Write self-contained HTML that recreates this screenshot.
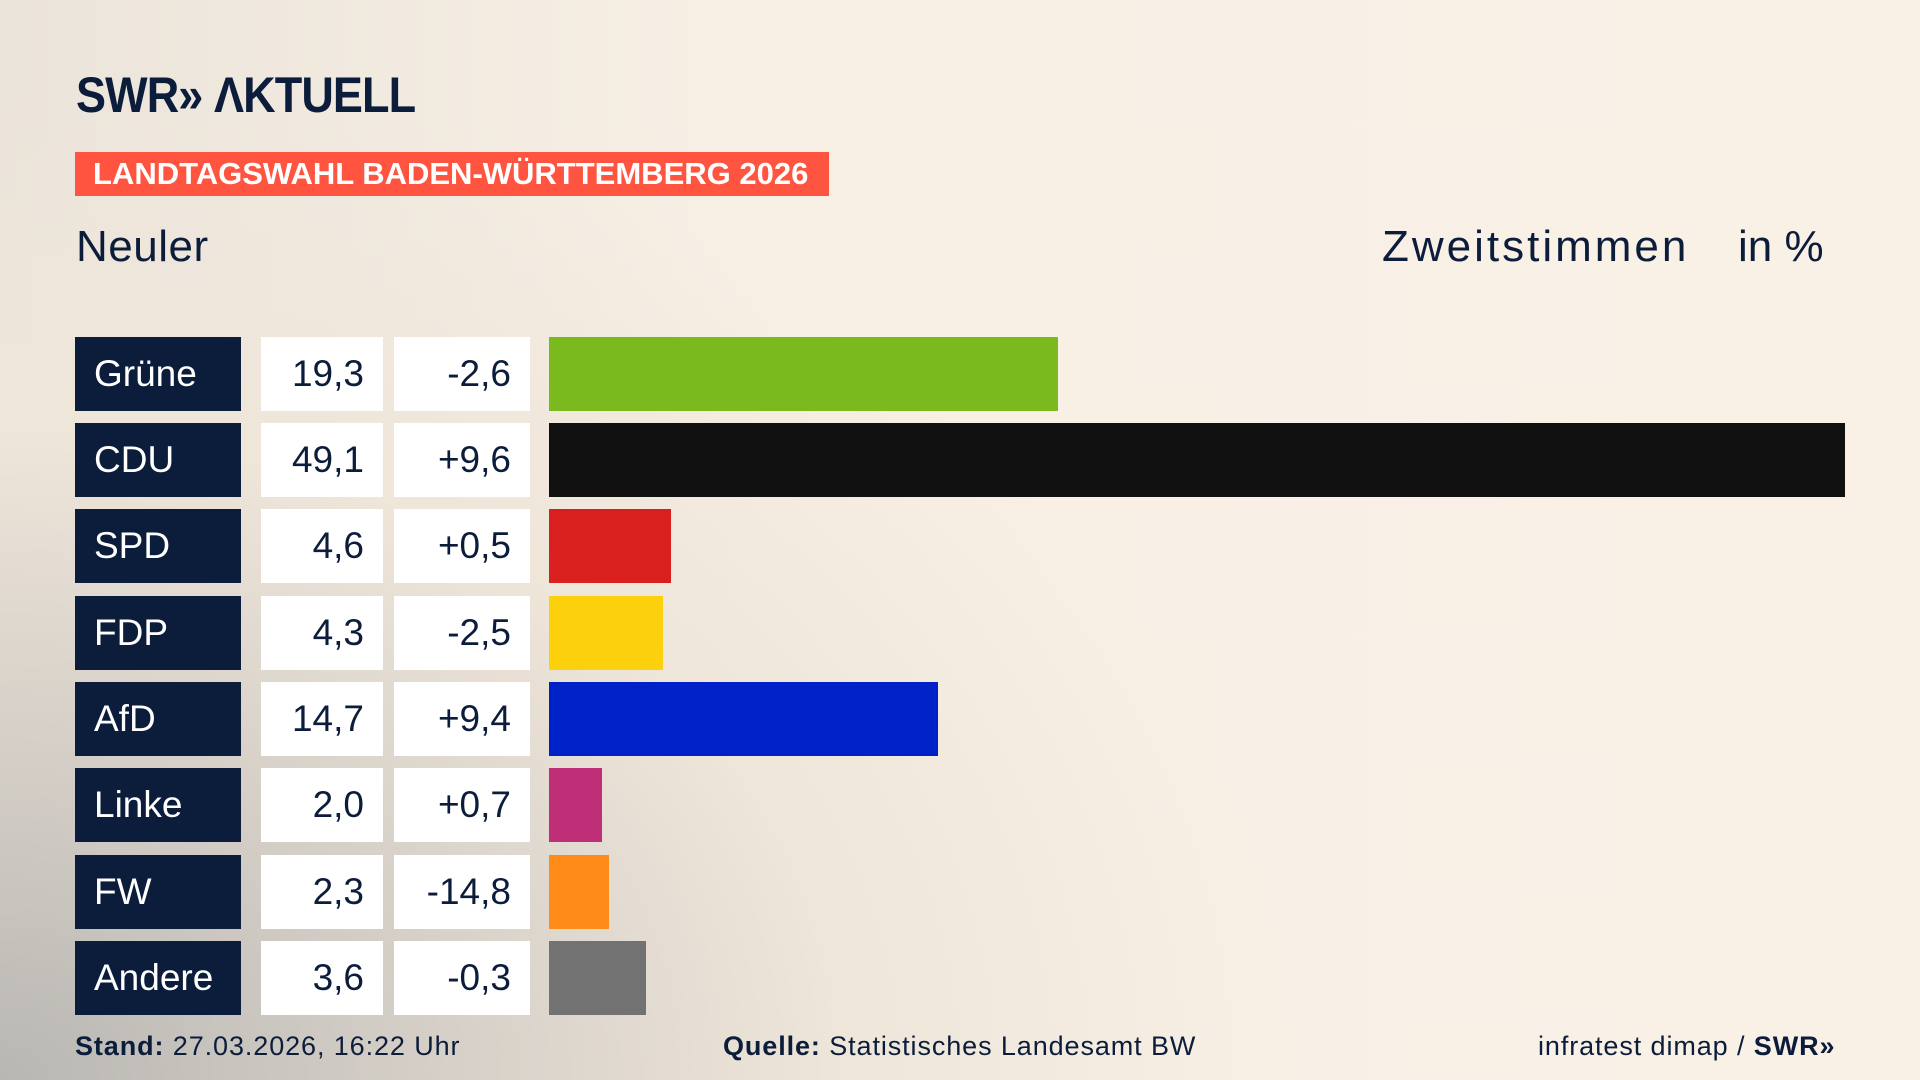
<!DOCTYPE html>
<html><head><meta charset="utf-8"><style>
*{margin:0;padding:0;box-sizing:border-box}
body{width:1920px;height:1080px;overflow:hidden;font-family:"Liberation Sans","DejaVu Sans",sans-serif;color:#0c1d3b;position:relative;
background:radial-gradient(ellipse 1300px 1000px at 0px 1080px,#b9b7b3 0%,#d6d0c8 35%,#efe6da 65%,rgba(248,240,229,0) 100%),linear-gradient(90deg,#ebe4da 0%,#f8f0e5 40%,#f9f1e6 100%);}
.abs{position:absolute}
.logo{left:76px;top:66px;font-size:50px;font-weight:bold;letter-spacing:-1px;transform:scaleX(0.9);transform-origin:left}
.banner{left:75px;top:152px;width:754px;height:44px;background:#ff5540;color:#fff;font-weight:bold;font-size:31px;line-height:44px;padding-left:18px;white-space:nowrap}
.h{font-size:44px;top:222px}
.row{position:absolute;left:75px;height:74px}
.p{position:absolute;left:0;width:166px;height:74px;background:#0c1d3b;color:#fff;font-size:37px;line-height:74px;padding-left:19px}
.v{position:absolute;left:186px;width:122px;height:74px;background:#fff;font-size:37px;line-height:74px;text-align:right;padding-right:19px}
.d{position:absolute;left:319px;width:136px;height:74px;background:#fff;font-size:37px;line-height:74px;text-align:right;padding-right:19px}
.b{position:absolute;left:474px;height:74px}
.f{top:1031px;font-size:27px;letter-spacing:0.9px}
</style></head><body>
<div class="abs logo">SWR&#187; ΛKTUELL</div>
<div class="abs banner">LANDTAGSWAHL BADEN-WÜRTTEMBERG 2026</div>
<div class="abs h" style="left:76px;letter-spacing:0.5px">Neuler</div>
<div class="abs h" style="left:1382px;letter-spacing:3px">Zweitstimmen</div>
<div class="abs h" style="left:1738px">in %</div>

<div class="row" style="top:337px"><div class="p">Grüne</div><div class="v">19,3</div><div class="d">-2,6</div><div class="b" style="width:509px;background:#7aba1e"></div></div>
<div class="row" style="top:423px"><div class="p">CDU</div><div class="v">49,1</div><div class="d">+9,6</div><div class="b" style="width:1296px;background:#111"></div></div>
<div class="row" style="top:509px"><div class="p">SPD</div><div class="v">4,6</div><div class="d">+0,5</div><div class="b" style="width:122px;background:#da1f1f"></div></div>
<div class="row" style="top:596px"><div class="p">FDP</div><div class="v">4,3</div><div class="d">-2,5</div><div class="b" style="width:114px;background:#fdd00e"></div></div>
<div class="row" style="top:682px"><div class="p">AfD</div><div class="v">14,7</div><div class="d">+9,4</div><div class="b" style="width:389px;background:#0020c8"></div></div>
<div class="row" style="top:768px"><div class="p">Linke</div><div class="v">2,0</div><div class="d">+0,7</div><div class="b" style="width:53px;background:#bf2f78"></div></div>
<div class="row" style="top:855px"><div class="p">FW</div><div class="v">2,3</div><div class="d">-14,8</div><div class="b" style="width:60px;background:#ff8c18"></div></div>
<div class="row" style="top:941px"><div class="p">Andere</div><div class="v">3,6</div><div class="d">-0,3</div><div class="b" style="width:97px;background:#727272"></div></div>

<div class="abs f" style="left:75px"><b>Stand:</b> 27.03.2026, 16:22 Uhr</div>
<div class="abs f" style="left:723px"><b>Quelle:</b> Statistisches Landesamt BW</div>
<div class="abs f" style="left:1538px">infratest dimap / <b>SWR&#187;</b></div>
</body></html>
